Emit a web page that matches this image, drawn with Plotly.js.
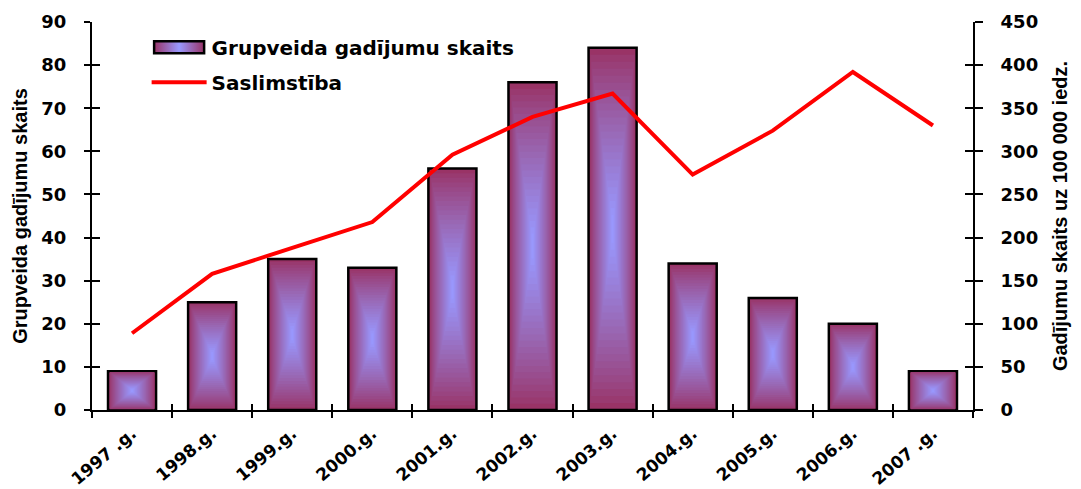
<!DOCTYPE html>
<html>
<head>
<meta charset="utf-8">
<script src="https://cdn.plot.ly/plotly-3.0.1.min.js"></script>
<style>
  html, body { margin: 0; padding: 0; background: #ffffff; }
  #chart { width: 1081px; height: 489px; }
</style>
</head>
<body>
<div id="chart"></div>
<script>
// ---- data ----
const years = ['1997 .g.', '1998.g.', '1999.g.', '2000.g.', '2001.g.', '2002.g.',
               '2003.g.', '2004.g.', '2005.g.', '2006.g.', '2007 .g.'];
const groupCases = [9, 25, 35, 33, 56, 76, 84, 34, 26, 20, 9];
const incidence = [89, 158, 188, 218, 296, 340, 367, 273, 324, 392, 330];

const barName = 'Grupveida gadījumu skaits';
const lineName = 'Saslimstība';
const leftTitle = 'Grupveida gadījumu skaits';
const rightTitle = 'Gadījumu skaits uz 100 000 iedz.';

// ---- styling ----
const WIDE = '"DejaVu Sans", Verdana, sans-serif';
const NARROW = '"Liberation Sans Narrow", "Liberation Sans", Arial, sans-serif';
const edge = [153, 51, 102];
const centre = [153, 153, 255];
const BAR_W = 0.6;
const LAYERS = 26;

function mix(t) {
  const c = edge.map((e, i) => Math.round(e + (centre[i] - e) * t));
  return 'rgb(' + c.join(',') + ')';
}

const traces = [];
traces.push({
  type: 'bar', x: years, y: groupCases, name: barName,
  width: BAR_W, xaxis: 'x', yaxis: 'y',
  marker: { color: mix(0), line: { color: '#000000', width: 2.5 } },
  hoverinfo: 'skip', legendgroup: 'a', showlegend: true
});
for (let k = 1; k < LAYERS; k++) {
  const t = k / LAYERS;
  const shade = Math.min(1, Math.pow(t, 0.85) * 1.05);
  traces.push({
    type: 'bar', x: years,
    y: groupCases.map(v => v * (1 - t)),
    base: groupCases.map(v => v * t / 2),
    width: BAR_W * (1 - t) - 0.02,
    xaxis: 'x', yaxis: 'y',
    marker: { color: mix(shade), line: { width: 0 } },
    hoverinfo: 'skip', showlegend: false
  });
}
traces.push({
  type: 'scatter', mode: 'lines', x: years, y: incidence, name: lineName,
  xaxis: 'x', yaxis: 'y2',
  line: { color: '#ff0000', width: 4 },
  hoverinfo: 'skip', legendgroup: 'b', showlegend: true
});
traces.push({ type: 'scatter', mode: 'none', x: years, y: groupCases.map(() => null),
  xaxis: 'x3', yaxis: 'y3', showlegend: false, hoverinfo: 'skip' });
traces.push({ type: 'scatter', mode: 'none', x: years, y: incidence.map(() => null),
  xaxis: 'x3', yaxis: 'y4', showlegend: false, hoverinfo: 'skip' });

const tickFont = { family: WIDE, size: 18, color: '#000000', weight: 'bold' };
const xTickFont = { family: WIDE, size: 17, color: '#000000', weight: 'bold' };
const titleFont = { family: NARROW, size: 20, color: '#000000', weight: 'bold' };

const layout = {
  width: 1081, height: 489,
  margin: { l: 92, r: 108, t: 22, b: 79 },
  paper_bgcolor: '#ffffff', plot_bgcolor: '#ffffff',
  barmode: 'overlay',
  showlegend: true,
  legend: {
    x: 0.062, y: 0.985, xanchor: 'left', yanchor: 'top',
    bgcolor: 'rgba(0,0,0,0)', itemwidth: 55,
    traceorder: 'grouped', tracegroupgap: 6,
    font: { family: WIDE, size: 20, color: '#000000', weight: 'bold' }
  },
  xaxis: {
    type: 'category', categoryorder: 'array', categoryarray: years,
    range: [-0.5, 10.5], tickson: 'boundaries',
    showline: true, linecolor: '#000000', linewidth: 2,
    ticks: 'outside', ticklen: 6, tickwidth: 2, tickcolor: '#000000',
    ticklabelstandoff: 5,
    tickangle: -40, tickfont: xTickFont, showgrid: false, zeroline: false
  },
  xaxis3: {
    type: 'category', categoryorder: 'array', categoryarray: years,
    overlaying: 'x', range: [-0.5, 10.5], tickson: 'boundaries',
    showline: false, ticks: 'inside', ticklen: 6, tickwidth: 2, tickcolor: '#000000',
    showticklabels: false, showgrid: false, zeroline: false, anchor: 'y3'
  },
  yaxis: {
    range: [0, 90], dtick: 10, tick0: 0,
    showline: true, linecolor: '#000000', linewidth: 2,
    ticks: 'outside', ticklen: 6, tickwidth: 2, tickcolor: '#000000',
    ticklabelstandoff: 14,
    tickfont: tickFont, showgrid: false, zeroline: false,
    title: { text: leftTitle, font: titleFont, standoff: 8 }
  },
  yaxis3: {
    range: [0, 90], dtick: 10, tick0: 0, overlaying: 'y', side: 'left', anchor: 'x3',
    showline: false, ticks: 'inside', ticklen: 8, tickwidth: 2, tickcolor: '#000000',
    showticklabels: false, showgrid: false, zeroline: false
  },
  yaxis2: {
    range: [0, 450], dtick: 50, tick0: 0, overlaying: 'y', side: 'right', anchor: 'x',
    showline: true, linecolor: '#000000', linewidth: 2,
    ticks: 'outside', ticklen: 8, tickwidth: 2, tickcolor: '#000000',
    ticklabelstandoff: 14,
    tickfont: tickFont, showgrid: false, zeroline: false,
    title: { text: rightTitle, font: titleFont, standoff: 16 }
  },
  yaxis4: {
    range: [0, 450], dtick: 50, tick0: 0, overlaying: 'y', side: 'right', anchor: 'x3',
    showline: false, ticks: 'inside', ticklen: 8, tickwidth: 2, tickcolor: '#000000',
    showticklabels: false, showgrid: false, zeroline: false
  }
};

Plotly.newPlot('chart', traces, layout, { staticPlot: true, displayModeBar: false }).then(gd => {
  // widen the bar swatch in the legend to match the reference's long box
  const legendTraces = gd.querySelectorAll('.legend .traces');
  if (legendTraces.length) {
    const p = legendTraces[0].querySelector('.legendpoints path');
    if (p) {
      p.setAttribute('d', 'M-25,-6H25V6H-25Z');
      p.style.fill = 'url(#legendGrad)';
      const svg = gd.querySelector('svg.main-svg');
      const ns = 'http://www.w3.org/2000/svg';
      let defs = svg.querySelector('defs');
      if (!defs) { defs = document.createElementNS(ns, 'defs'); svg.prepend(defs); }
      const g = document.createElementNS(ns, 'linearGradient');
      g.setAttribute('id', 'legendGrad');
      [[0, mix(0)], [0.5, mix(1)], [1, mix(0)]].forEach(([o, c]) => {
        const s = document.createElementNS(ns, 'stop');
        s.setAttribute('offset', o); s.setAttribute('stop-color', c);
        g.appendChild(s);
      });
      defs.appendChild(g);
    }
  }
});
</script>
</body>
</html>
